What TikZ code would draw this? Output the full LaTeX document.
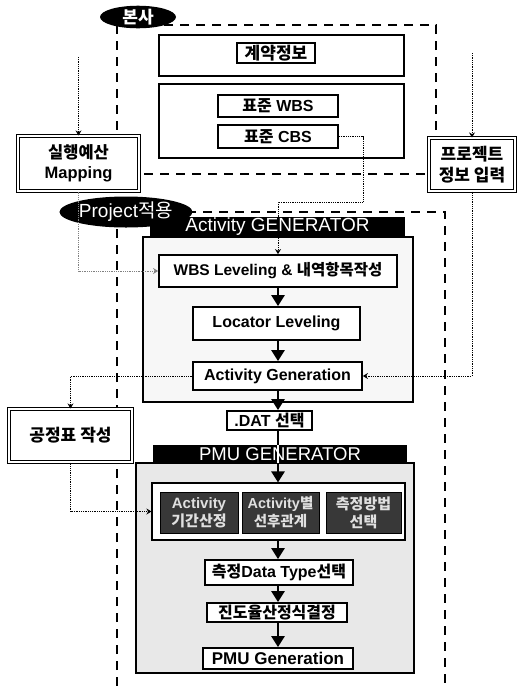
\documentclass[tikz,border=0pt]{standalone}
\usepackage{fontspec}
\setmainfont{Liberation Sans}
\newfontfamily\kr{Noto Sans CJK KR}
\usetikzlibrary{arrows.meta,shapes.geometric,calc}
\begin{document}
\begin{tikzpicture}[x=1pt,y=-1pt,
 dzone/.style={line width=2.3pt, dash pattern=on 9pt off 7pt},
 innerbox/.style={draw, line width=1.8pt, fill=white, inner sep=0pt, font=\bfseries\fontsize{16}{18}\selectfont, align=center},
 dblbox/.style={draw, line width=1.1pt, double, double distance=2.2pt, fill=white, inner sep=0pt, font=\bfseries\fontsize{16.5}{20}\selectfont, align=center},
 darkbox/.style={draw, line width=1pt, fill=black!78, text=white!88!black, inner sep=0pt, font=\bfseries\fontsize{15}{18}\selectfont, align=center},
 header/.style={fill=black, text=white, inner sep=0pt},
 blackell/.style={ellipse, fill=black, text=white, inner sep=0pt},
 panel/.style={draw, line width=1.1pt, inner sep=0pt},
 bigarrow/.style={line width=2.6pt, -{Triangle[width=13pt,length=11pt]}},
 dotline/.style={densely dotted, line width=0.8pt, -{Stealth[length=5pt,width=6pt]}},
]
\useasboundingbox (0,0) rectangle (519,686);
\fill[white] (0,0) rectangle (519,686);

% zones
\draw[dzone] (117,25) rectangle (436,174);
\draw[dzone] (117,686) -- (117,212) -- (445,212) -- (445,686);

% HQ area
\node[panel, fill=white, minimum width=245, minimum height=41] (contract) at (281.5,55.5) {};
\node[innerbox, minimum width=78, minimum height=20] (cinfo) at (276,53) {\kr\fontsize{17}{18}\selectfont 계약정보};
\node[panel, fill=white, minimum width=245, minimum height=74] (std) at (281.5,121) {};
\node[innerbox, minimum width=120, minimum height=22] (swbs) at (278,106) {{\kr 표준} WBS};
\node[innerbox, minimum width=120, minimum height=23] (scbs) at (278,136.5) {{\kr 표준} CBS};

\node[dblbox, minimum width=121, minimum height=55] (map) at (78.5,163.5) {{\kr 실행예산}\\Mapping};
\node[dblbox, minimum width=86, minimum height=53, font=\bfseries\kr\fontsize{17}{21}\selectfont] (prj) at (472,164.5) {프로젝트\\정보 입력};

% activity panel
\node[panel, fill=gray!6, minimum width=270, minimum height=165] (actpanel) at (278,319.5) {};
\node[header, minimum width=255, minimum height=20, font=\fontsize{19}{20}\selectfont] (acthead) at (277.5,227) {Activity GENERATOR};
\node[innerbox, minimum width=238, minimum height=32, font=\bfseries\fontsize{15.5}{18}\selectfont] (wbs) at (278,271) {WBS Leveling \& {\kr 내역항목작성}};
\coordinate (c1) at (363,202);
\draw[dotline] (scbs.east) -| (c1) -| (wbs.north);
\node[innerbox, minimum width=167, minimum height=33] (loc) at (276.5,323.5) {Locator Leveling};
\node[innerbox, minimum width=169, minimum height=28] (actgen) at (277.5,376) {Activity Generation};
\node[innerbox, minimum width=85, minimum height=19] (dat) at (269.5,420.5) {.DAT {\kr 선택}};

% PMU panel
\node[panel, fill=gray!18, minimum width=278, minimum height=210] (pmupanel) at (275,568) {};
\node[header, minimum width=254, minimum height=18, font=\fontsize{18.5}{19}\selectfont] (pmuhead) at (280,454) {PMU GENERATOR};
\node[panel, fill=white, minimum width=253, minimum height=57] (group) at (278.5,511.5) {};
\node[darkbox, minimum width=78, minimum height=41] (d1) at (199,512.5) {Activity\\{\kr 기간산정}};
\node[darkbox, minimum width=77, minimum height=41, font=\bfseries\fontsize{14.5}{18}\selectfont] (d2) at (280.5,512.5) {Activity{\kr 별}\\{\kr 선후관계}};
\node[darkbox, minimum width=75, minimum height=41, font=\bfseries\kr\fontsize{15}{18}\selectfont] (d3) at (363.5,512.5) {측정방법\\선택};
\node[innerbox, minimum width=148, minimum height=25] (meas) at (279,572.5) {{\kr 측정}Data Type{\kr 선택}};
\node[innerbox, minimum width=140, minimum height=19, font=\bfseries\kr\fontsize{16}{18}\selectfont] (prog) at (277,612.5) {진도율산정식결정};
\node[innerbox, minimum width=150, minimum height=21, font=\bfseries\fontsize{17}{18}\selectfont] (pmugen) at (278,658.5) {PMU Generation};

\node[dblbox, minimum width=123, minimum height=53, font=\bfseries\kr\fontsize{17}{20}\selectfont] (gong) at (70.5,435.5) {공정표 작성};

% ellipses
\node[blackell, minimum width=76, minimum height=22, font=\bfseries\kr\fontsize{17}{18}\selectfont] (hq) at (138,17) {본사};
\node[blackell, minimum width=118, minimum height=31, font=\fontsize{19}{20}\selectfont] (proj) at (126,212) {Project{\kr 적용}};

% thick arrows
\draw[bigarrow] (wbs.south) -- (wbs.south |- loc.north);
\draw[bigarrow] (loc.south -| wbs.south) -- (wbs.south |- actgen.north);
\draw[bigarrow] (actgen.south -| wbs.south) -- (wbs.south |- dat.north);
\draw[line width=1.5pt] (dat.south -| wbs.south) -- (wbs.south |- pmuhead.north);
\draw[white, line width=1.5pt] (wbs.south |- pmuhead.north) -- (wbs.south |- pmuhead.south);
\draw[bigarrow] (wbs.south |- pmuhead.south) -- (wbs.south |- group.north);
\draw[bigarrow] (group.south -| wbs.south) -- (wbs.south |- meas.north);
\draw[bigarrow] (meas.south -| wbs.south) -- (wbs.south |- prog.north);
\draw[bigarrow] (prog.south -| wbs.south) -- (wbs.south |- pmugen.north);

% dotted connectors
\coordinate (tl) at (78.5,57);
\coordinate (tr) at (472,53);
\draw[dotline] (tl) -- (map.north);
\draw[dotline] (tr) -- (prj.north);
\draw[dotline, gray] (map.south) |- (wbs.west);
\draw[dotline] (prj.south) |- (actgen.east);
\draw[dotline] (actgen.west) -| (gong.north);
\draw[dotline] (gong.south) |- (group.west);
\end{tikzpicture}
\end{document}
